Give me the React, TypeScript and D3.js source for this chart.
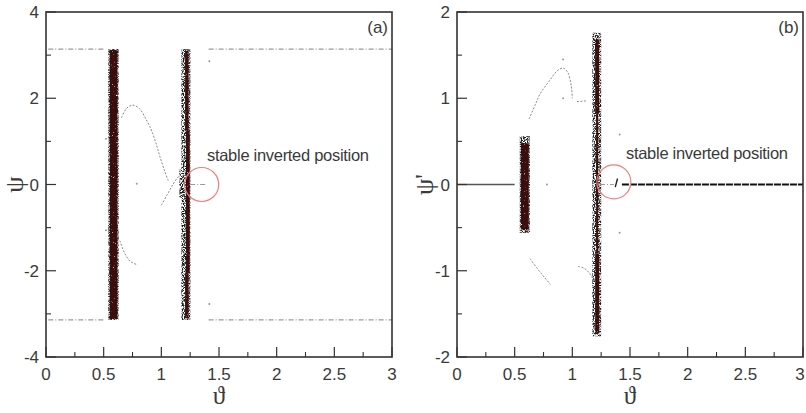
import React from "react";
import * as d3 from "d3";

// ---------- data ----------
const xTicks = [0, 0.5, 1, 1.5, 2, 2.5, 3];
const xMinor = [0.25, 0.75, 1.25, 1.75, 2.25, 2.75];
const yTicksA = [-4, -2, 0, 2, 4];
const yMinorA = [-3, -1, 1, 3];
const yTicksB = [-2, -1, 0, 1, 2];
const yMinorB = [-1.5, -0.5, 0.5, 1.5];

// bands: [x0, x1, y0, y1]
const haloA = [
  [0.54, 0.63, -3.14, 3.14],
  [1.174, 1.252, -3.14, 3.14],
  [1.156, 1.18, -0.3, 0.35],
];
const coreA = [
  [0.553, 0.62, -3.12, 3.12],
  [1.214, 1.246, -2.05, 1.25],
  [1.206, 1.236, 1.25, 3.1],
  [1.206, 1.236, -3.1, -2.05],
];
const haloB = [
  [0.544, 0.632, -0.56, 0.56],
  [1.174, 1.25, -1.76, 1.76],
];
const coreB = [
  [0.554, 0.622, -0.52, 0.48],
  [1.198, 1.232, 0.82, 1.68],
  [1.198, 1.232, -1.72, -0.8],
  [1.206, 1.224, -0.8, 0.82],
];

const curvesA = [
  [[0.655, 1.55], [0.7, 1.77], [0.755, 1.84], [0.81, 1.76], [0.87, 1.5], [0.917, 1.24], [0.96, 0.9], [0.99, 0.63], [1.03, 0.3], [1.06, 0.09]],
  [[1.0, -0.48], [1.05, -0.24], [1.1, 0.0], [1.145, 0.17], [1.17, 0.22]],
  [[0.64, -1.3], [0.68, -1.58], [0.73, -1.78], [0.79, -1.86]],
];
const dotsA = [[0.52, 1.06], [0.52, -1.06], [1.416, 2.86], [1.416, -2.77], [0.787, 0.02]];
const piLinesA = [
  [0.02, 0.5, 3.14], [1.41, 3.0, 3.14],
  [0.02, 0.5, -3.14], [1.41, 3.0, -3.14],
];
const stableA = [[1.25, 1.38, 0]];

const curvesB = [
  [[0.625, 0.76], [0.68, 0.93], [0.72, 1.05], [0.8, 1.2], [0.87, 1.32], [0.92, 1.35], [0.96, 1.3], [0.99, 1.15], [1.0, 1.0]],
  [[1.04, 0.96], [1.12, 0.97]],
  [[0.633, -0.86], [0.7, -0.98], [0.76, -1.08], [0.81, -1.16]],
  [[1.05, -0.95], [1.1, -0.97], [1.15, -1.03], [1.17, -1.08]],
];
const dotsB = [[1.41, 0.58], [1.41, -0.56], [0.78, 0.0], [0.92, 1.45], [0.92, 1.0]];
const zeroLinesB = [[0, 0.5, 0], [1.43, 3.0, 0]];
const stableB = [[1.24, 1.36, 0]];
const slashB = [[1.372, -0.03], [1.392, 0.07]];

const circleA = [1.35, 0.0];
const circleB = [1.36, 0.03];
const annotation = "stable inverted position";

// ---------- layout ----------
const W = 806;
const H = 413;
const TOP = 12;
const BOTTOM = 357;

type Panel = {
  left: number;
  right: number;
  yDomain: [number, number];
  yTicks: number[];
  yMinor: number[];
  halo: number[][];
  core: number[][];
  curves: number[][][];
  dots: number[][];
  solidLines: number[][];
  dashedLines: number[][];
  circle: number[];
  tag: string;
  ylabel: string;
  labelX: number;
  textX: number;
  textY: number;
  slash?: number[][];
};

const panels: Panel[] = [
  {
    left: 46, right: 392, yDomain: [-4, 4], yTicks: yTicksA, yMinor: yMinorA,
    halo: haloA, core: coreA, curves: curvesA, dots: dotsA,
    solidLines: [], dashedLines: [...piLinesA, ...stableA],
    circle: circleA, tag: "(a)", ylabel: "ψ", labelX: 15, textX: 207, textY: 161,
  },
  {
    left: 457, right: 803, yDomain: [-2, 2], yTicks: yTicksB, yMinor: yMinorB,
    halo: haloB, core: coreB, curves: curvesB, dots: dotsB,
    solidLines: zeroLinesB, dashedLines: stableB,
    circle: circleB, tag: "(b)", ylabel: "ψ'", labelX: 425, textX: 626, textY: 159,
    slash: slashB,
  },
];

const FONT = "'Liberation Sans', Arial, Helvetica, sans-serif";
const SERIF = "'Liberation Serif', 'DejaVu Serif', serif";
const AXIS = "#333";
const TXT = "#3a3a3a";

function PanelView({ p, idx }: { p: Panel; idx: number }) {
  const x = d3.scaleLinear().domain([0, 3]).range([p.left, p.right]);
  const y = d3.scaleLinear().domain(p.yDomain).range([BOTTOM, TOP]);
  const line = d3
    .line<number[]>()
    .x((d) => x(d[0]))
    .y((d) => y(d[1]))
    .curve(d3.curveCatmullRom);
  const clipId = `clip${idx}`;
  return (
    <g>
      <clipPath id={clipId}>
        <rect x={p.left} y={TOP} width={p.right - p.left} height={BOTTOM - TOP} />
      </clipPath>
      <g clipPath={`url(#${clipId})`}>
        {p.halo.map((b, i) => (
          <rect key={"h" + i} x={x(b[0])} y={y(b[3])} width={x(b[1]) - x(b[0])} height={y(b[2]) - y(b[3])} fill="#1a1a1a" filter="url(#speckle)" />
        ))}
        {p.core.map((b, i) => (
          <rect key={"c" + i} x={x(b[0])} y={y(b[3])} width={x(b[1]) - x(b[0])} height={y(b[2]) - y(b[3])} fill="#3a0e0e" filter="url(#dense)" />
        ))}
        {p.curves.map((c, i) => (
          <path key={"cv" + i} d={line(c) || ""} fill="none" stroke="#8a8a8a" strokeWidth={1} strokeDasharray="2,1.5" />
        ))}
        {p.dots.map((d, i) => (
          <circle key={"d" + i} cx={x(d[0])} cy={y(d[1])} r={1} fill="#999" />
        ))}
        {p.solidLines.map((l, i) => (
          <line key={"s" + i} x1={x(l[0])} x2={x(l[1])} y1={y(l[2])} y2={y(l[2])} stroke={i === 0 ? "#555" : "#111"} strokeWidth={i === 0 ? 1.5 : 2.2} strokeDasharray={i === 0 ? undefined : "7,1"} />
        ))}
        {p.dashedLines.map((l, i) => (
          <line key={"dl" + i} x1={x(l[0])} x2={x(l[1])} y1={y(l[2])} y2={y(l[2])} stroke="#9a9a9a" strokeWidth={1.2} strokeDasharray="5,2,1,2" />
        ))}
        {p.slash && (
          <line x1={x(p.slash[0][0])} y1={y(p.slash[0][1])} x2={x(p.slash[1][0])} y2={y(p.slash[1][1])} stroke="#222" strokeWidth={1.4} />
        )}
      </g>
      <circle cx={x(p.circle[0])} cy={y(p.circle[1])} r={17} fill="none" stroke="#ee7f80" strokeWidth={1.2} />
      <text x={p.textX} y={p.textY} fontFamily={FONT} fontSize={16.5} fill={TXT} textLength={162}>{annotation}</text>
      <text x={p.right - 4} y={33} fontFamily={FONT} fontSize={17} fill={TXT} textAnchor="end">{p.tag}</text>
      {/* ticks */}
      {xTicks.map((t) => (
        <g key={"xt" + t}>
          <line x1={x(t)} x2={x(t)} y1={BOTTOM} y2={BOTTOM - 10} stroke={AXIS} strokeWidth={1.2} />
          <text x={Math.min(x(t), W - 6)} y={380} textAnchor="middle" fontFamily={FONT} fontSize={17} fill={TXT}>{t}</text>
        </g>
      ))}
      {xMinor.map((t) => (
        <line key={"xm" + t} x1={x(t)} x2={x(t)} y1={BOTTOM} y2={BOTTOM - 5} stroke={AXIS} strokeWidth={1.1} />
      ))}
      {p.yTicks.map((t) => (
        <g key={"yt" + t}>
          <line x1={p.left} x2={p.left + 10} y1={y(t)} y2={y(t)} stroke={AXIS} strokeWidth={1.2} />
          <text x={p.left - 7} y={y(t) + 6} textAnchor="end" fontFamily={FONT} fontSize={17} fill={TXT}>{t}</text>
        </g>
      ))}
      {p.yMinor.map((t) => (
        <line key={"ym" + t} x1={p.left} x2={p.left + 5} y1={y(t)} y2={y(t)} stroke={AXIS} strokeWidth={1.1} />
      ))}
      <rect x={p.left} y={TOP} width={p.right - p.left} height={BOTTOM - TOP} fill="none" stroke={AXIS} strokeWidth={1.6} />
      <text x={(p.left + p.right) / 2} y={404} textAnchor="middle" fontFamily={SERIF} fontSize={25} fill={TXT}>ϑ</text>
      <text transform={`translate(${p.labelX + 8},${(TOP + BOTTOM) / 2}) rotate(-90)`} textAnchor="middle" fontFamily={SERIF} fontSize={26} fill={TXT}>{p.ylabel}</text>
    </g>
  );
}

export default function App() {
  return (
    <svg width={W} height={H} style={{ position: "absolute", left: 0, top: 0, background: "#fff" }}>
      <defs>
        <filter id="speckle" x="0" y="0" width="1" height="1">
          <feTurbulence type="fractalNoise" baseFrequency="0.9" numOctaves={2} seed={4} result="n" />
          <feColorMatrix in="n" type="matrix" values="0 0 0 0 0  0 0 0 0 0  0 0 0 0 0  5 0 0 0 -2.0" result="a" />
          <feComposite in="SourceGraphic" in2="a" operator="in" />
        </filter>
        <filter id="dense" x="0" y="0" width="1" height="1">
          <feTurbulence type="fractalNoise" baseFrequency="0.9" numOctaves={2} seed={9} result="n" />
          <feColorMatrix in="n" type="matrix" values="0 0 0 0 0  0 0 0 0 0  0 0 0 0 0  6 0 0 0 -0.9" result="a" />
          <feComposite in="SourceGraphic" in2="a" operator="in" />
        </filter>
      </defs>
      <rect width={W} height={H} fill="#fff" />
      {panels.map((p, i) => (
        <PanelView key={i} p={p} idx={i} />
      ))}
    </svg>
  );
}
